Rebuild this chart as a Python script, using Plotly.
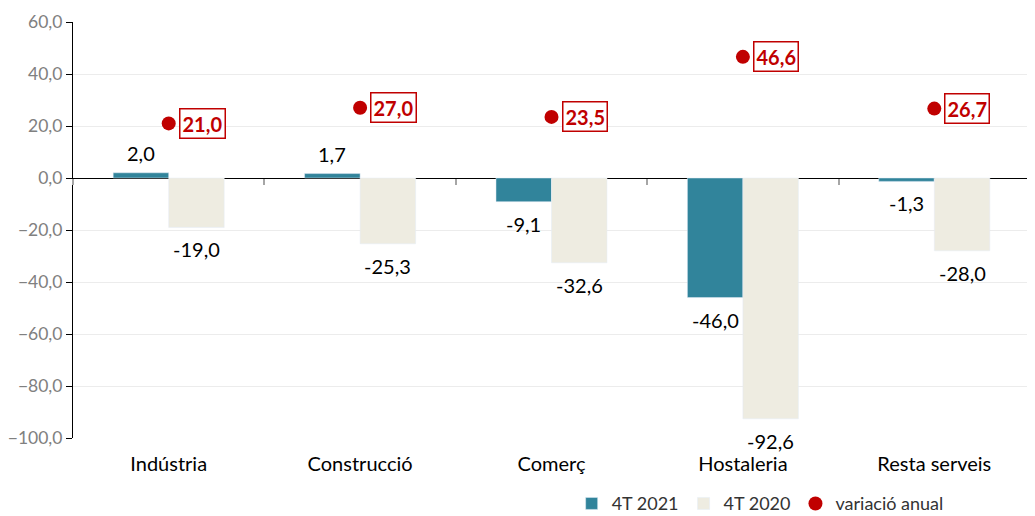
import plotly.graph_objects as go

categories = ["Indústria", "Construcció", "Comerç", "Hostaleria", "Resta serveis"]
v2021 = [2.0, 1.7, -9.1, -46.0, -1.3]
v2020 = [-19.0, -25.3, -32.6, -92.6, -28.0]
variacio = [21.0, 27.0, 23.5, 46.6, 26.7]

TEAL = "#31849B"
BEIGE = "#EEECE1"
RED = "#C00000"
FONT = "Lato"
BARGAP = 0.42
HALF = (1 - BARGAP) / 4  # offset of each bar centre from category centre

def fmt(v):
    return f"{v:.1f}".replace(".", ",")

fig = go.Figure()
fig.add_trace(go.Bar(x=categories, y=v2021, name="4T 2021", marker_color=TEAL))
fig.add_trace(go.Bar(x=categories, y=v2020, name="4T 2020", marker_color=BEIGE))
fig.add_trace(go.Scatter(
    x=categories, y=variacio, name="variació anual", mode="markers",
    marker=dict(color=RED, size=14), cliponaxis=False,
))
# invisible trace to carry the boundary tick axis on the zero line
fig.add_trace(go.Scatter(
    x=categories, y=variacio, xaxis="x2", mode="markers",
    marker=dict(opacity=0), showlegend=False, hoverinfo="skip",
))

for i, (a, b) in enumerate(zip(v2021, v2020)):
    for val, off in ((a, -HALF), (b, HALF)):
        fig.add_annotation(
            x=i + off, y=val, xref="x", yref="y", text=fmt(val),
            showarrow=False, yanchor="bottom" if val >= 0 else "top",
            yshift=6 if val >= 0 else -8,
            font=dict(size=20, color="#000000", family=FONT),
        )

for c, v in zip(categories, variacio):
    fig.add_annotation(
        x=c, y=v, xref="x", yref="y", text=f"<b>{fmt(v)}</b>",
        showarrow=False, xanchor="left", xshift=10,
        font=dict(size=20, color=RED, family=FONT),
        bordercolor=RED, borderwidth=1.5, borderpad=2, bgcolor="white",
    )

fig.update_layout(
    width=1027, height=508,
    margin=dict(l=65, r=5, t=14, b=78, autoexpand=False),
    plot_bgcolor="white", paper_bgcolor="white",
    barmode="group", bargap=BARGAP, bargroupgap=0,
    separators=",.",
    font=dict(family=FONT, size=19, color="#000000"),
    legend=dict(orientation="h", x=0.915, xanchor="right", y=-0.158, yanchor="middle",
                font=dict(size=18, color="#333333", family=FONT),
                traceorder="normal"),
    showlegend=True,
    xaxis=dict(showgrid=False, showline=False, ticks="", automargin=False,
               ticklabelstandoff=12, range=[-0.5, 4.5],
               tickfont=dict(size=20, color="#000000", family=FONT)),
    xaxis2=dict(overlaying="x", anchor="free", position=100 / 160,
                showticklabels=False, ticks="outside", ticklen=6,
                tickcolor="#A6A6A6", tickwidth=1.5, tickson="boundaries",
                showgrid=False, showline=False, zeroline=False,
                range=[-0.5, 4.5]),
    yaxis=dict(range=[-100, 60], dtick=20, tickformat=".1f", automargin=False,
               showgrid=True, gridcolor="#ECECEC", gridwidth=1,
               showline=True, linecolor="#000000", linewidth=1,
               ticks="outside", ticklen=6, tickcolor="#000000",
               zeroline=True, zerolinecolor="#000000", zerolinewidth=1,
               tickfont=dict(size=17.5, color="#808080", family=FONT)),
)

fig.write_html("out.html")
